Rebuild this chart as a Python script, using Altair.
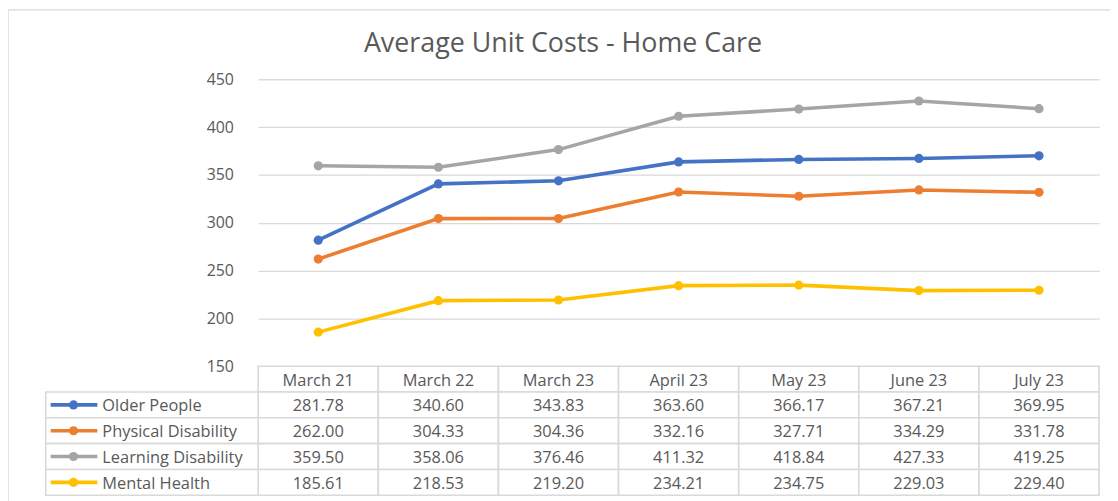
import altair as alt
import pandas as pd

months = ["March 21", "March 22", "March 23", "April 23", "May 23", "June 23", "July 23"]
series = ["Older People", "Physical Disability", "Learning Disability", "Mental Health"]
colors = ["#4472C4", "#ED7D31", "#A5A5A5", "#FFC000"]

older_people = [281.78, 340.60, 343.83, 363.60, 366.17, 367.21, 369.95]
physical_disability = [262.00, 304.33, 304.36, 332.16, 327.71, 334.29, 331.78]
learning_disability = [359.50, 358.06, 376.46, 411.32, 418.84, 427.33, 419.25]
mental_health = [185.61, 218.53, 219.20, 234.21, 234.75, 229.03, 229.40]

y_ticks = [150, 200, 250, 300, 350, 400, 450]
title_text = "Average Unit Costs - Home Care"

FONT = "Open Sans"
TXT = "#595959"
GRID = "#D9D9D9"
W, H = 847, 419
PLOT_H = 289
FS = 16.5

all_vals = [older_people, physical_disability, learning_disability, mental_health]
rows = []
for s, vals in zip(series, all_vals):
    for m, v in zip(months, vals):
        rows.append({"series": s, "month": m, "value": v})
df = pd.DataFrame(rows)

header_df = pd.DataFrame({"month": months, "row": ["header"] * len(months)})
cells_df = pd.concat([
    header_df,
    pd.DataFrame([{"month": m, "row": s} for s in series for m in months]),
])
legend_df = pd.DataFrame({"series": series, "row": series})
num_df = df.assign(row=df["series"])
title_df = pd.DataFrame({"t": [title_text]})

row_domain = ["header"] + series

xs = alt.Scale(type="band", domain=months, paddingInner=0, paddingOuter=0)
cs = alt.Scale(domain=series, range=colors)
ys_row = alt.Scale(type="band", domain=row_domain, range=[PLOT_H, H], paddingInner=0, paddingOuter=0)

X = alt.X("month:N", scale=xs, axis=None, bandPosition=0.5)
XR = alt.X("month:N", scale=xs, axis=None)
C = alt.Color("series:N", scale=cs, legend=None)
YR = alt.Y("row:N", scale=ys_row, axis=None)
YRC = alt.Y("row:N", scale=ys_row, axis=None, bandPosition=0.5)

yq = alt.Y(
    "value:Q",
    scale=alt.Scale(domain=[150, 450], range=[PLOT_H, 0], nice=False, zero=False),
    axis=alt.Axis(
        values=y_ticks, title=None, domain=False, ticks=False, labelPadding=25,
        labelFont=FONT, labelFontSize=16, labelColor=TXT,
        grid=True, gridColor=GRID, gridWidth=1.3,
    ),
)

base = alt.Chart(df)
lines = base.mark_line(strokeWidth=3.6).encode(x=X, y=yq, color=C)
points = base.mark_point(filled=True, size=85, opacity=1).encode(x=X, y=yq, color=C)
plot = alt.layer(lines, points)

frame = alt.Chart(pd.DataFrame({"a": [0]})).mark_rect(fill=None, stroke=GRID, strokeWidth=1.3).encode(
    x=alt.value(-252), x2=alt.value(W + 40), y=alt.value(-70), y2=alt.value(H + 40)
)
title = alt.Chart(title_df).mark_text(
    font=FONT, fontSize=27, color=TXT, align="center", baseline="alphabetic"
).encode(x=alt.value(307), y=alt.value(-27), text="t:N")

cells = alt.Chart(cells_df).mark_rect(fill="white", stroke=GRID, strokeWidth=1.6).encode(x=XR, y=YR)
legend_cells = alt.Chart(legend_df).mark_rect(fill="white", stroke=GRID, strokeWidth=1.6).encode(
    x=alt.value(-214), x2=alt.value(0), y=YR
)
header_txt = alt.Chart(header_df).mark_text(font=FONT, fontSize=FS, color=TXT, dy=1.5).encode(
    x=X, y=YRC, text="month:N"
)
num_txt = alt.Chart(num_df).mark_text(font=FONT, fontSize=FS, color=TXT, dy=1.5).encode(
    x=X, y=YRC, text=alt.Text("value:Q", format=".2f"),
)
leg_rule = alt.Chart(legend_df).mark_rule(strokeWidth=3.6).encode(
    x=alt.value(-209), x2=alt.value(-162), y=YRC, color=C
)
leg_pt = alt.Chart(legend_df).mark_point(filled=True, size=85, opacity=1).encode(
    x=alt.value(-186), y=YRC, color=C
)
leg_txt = alt.Chart(legend_df).mark_text(font=FONT, fontSize=FS, color=TXT, align="left", dy=1.5).encode(
    x=alt.value(-157), y=YRC, text="series:N"
)

table = alt.layer(cells, legend_cells, header_txt, num_txt, leg_rule, leg_pt, leg_txt)

chart = alt.layer(frame, title, plot, table).resolve_scale(y="independent").properties(
    width=W,
    height=H,
    padding={"left": 252, "top": 70, "right": 11, "bottom": 4},
    autosize=alt.AutoSizeParams(type="none"),
    background="white",
).configure_view(stroke=None)

chart.save("out.html", embed_options={"renderer": "svg", "actions": False})
